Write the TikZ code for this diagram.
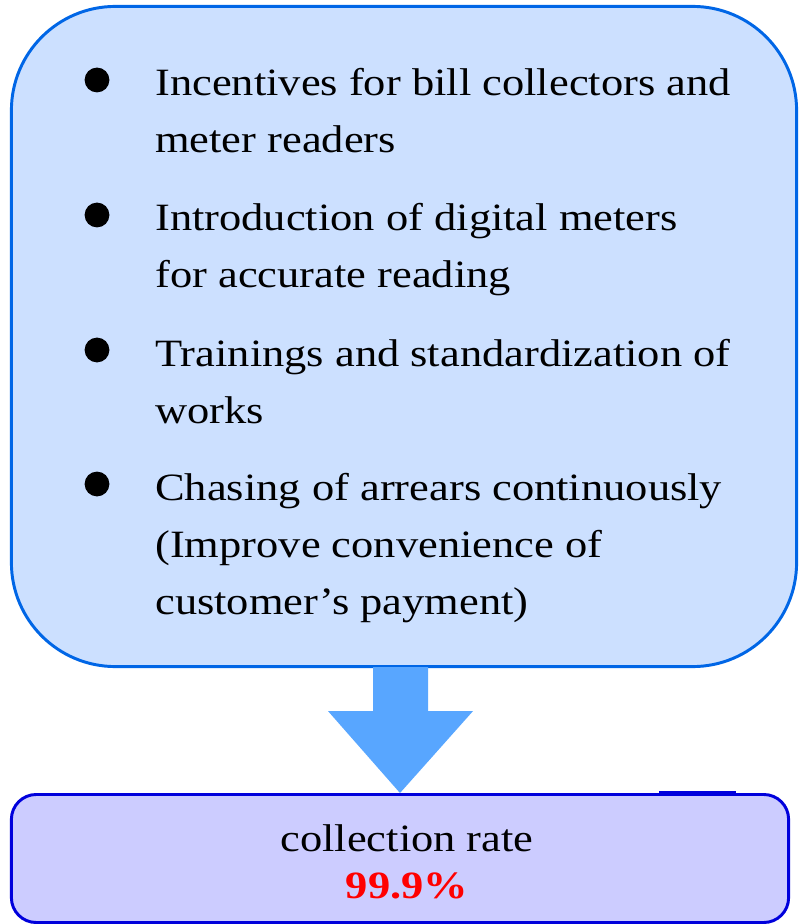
\documentclass[tikz,border=0pt]{standalone}
\usepackage{fontspec}
\setmainfont{Liberation Serif}[FakeStretch=1.15]
\usetikzlibrary{positioning,calc}
\definecolor{panelline}{RGB}{0,102,230}
\definecolor{panelfill}{RGB}{204,224,255}
\definecolor{arrowfill}{RGB}{88,166,255}
\definecolor{resultfill}{RGB}{204,204,255}
\definecolor{resultline}{RGB}{0,0,220}
\tikzstyle{panel} = [rectangle, draw=panelline, fill=panelfill, line width=2.1pt, rounded corners=2.6cm, minimum width=19.625cm, minimum height=16.5cm]
\tikzstyle{result} = [rectangle, draw=resultline, fill=resultfill, line width=2.1pt, rounded corners=0.62cm, minimum width=19.425cm, minimum height=3.2cm]
\tikzstyle{dot} = [circle, fill=black, inner sep=0pt, minimum size=0.62cm]
\tikzstyle{line} = [anchor=base west, inner sep=0pt, font=\fontsize{27.5}{33}\selectfont]

\begin{document}
\begin{tikzpicture}[x=0.025cm, y=-0.025cm]
	\useasboundingbox (0,0) rectangle (804,924);
	\node[panel] (measures) at (404,336.5) {};
	\node[result] (rate) at (400,858.5) {};
	% bullet points, one node per printed line
	\node[dot] (b1) at (97,80) {};
	\node[line] (incent1) at (155,96) {Incentives for bill collectors and};
	\node[line] (incent2) at (155,153) {meter readers};
	\node[dot] (b2) at (97,215) {};
	\node[line] (digital1) at (155,231) {Introduction of digital meters};
	\node[line] (digital2) at (155,288) {for accurate reading};
	\node[dot] (b3) at (97,350) {};
	\node[line] (train1) at (155,366) {Trainings and standardization of};
	\node[line] (train2) at (155,423) {works};
	\node[dot] (b4) at (97,484) {};
	\node[line] (arrears1) at (155,500) {Chasing of arrears continuously};
	\node[line] (arrears2) at (155,557) {(Improve convenience of};
	\node[line] (arrears3) at (155,614) {customer’s payment)};
	% down arrow
	\fill[arrowfill] ($(measures.south)+(-31,-1)$) -- ($(measures.south)+(24,-1)$) -- ($(measures.south)+(24,43)$) -- ($(measures.south)+(69,43)$) -- (rate.north) -- ($(measures.south)+(-76,43)$) -- ($(measures.south)+(-31,43)$) -- cycle;
	\draw[resultline, line width=3.5pt] ($(rate.north)+(259,0)$) -- ($(rate.north)+(336,0)$);
	% result text
	\node[anchor=base, inner sep=0pt, font=\fontsize{27.5}{33}\selectfont] (label) at (407,851) {collection rate};
	\node[anchor=base, inner sep=0pt, text=red, font=\fontsize{27.5}{33}\selectfont\bfseries] (value) at (407,898) {99.9\%};
\end{tikzpicture}
\end{document}
